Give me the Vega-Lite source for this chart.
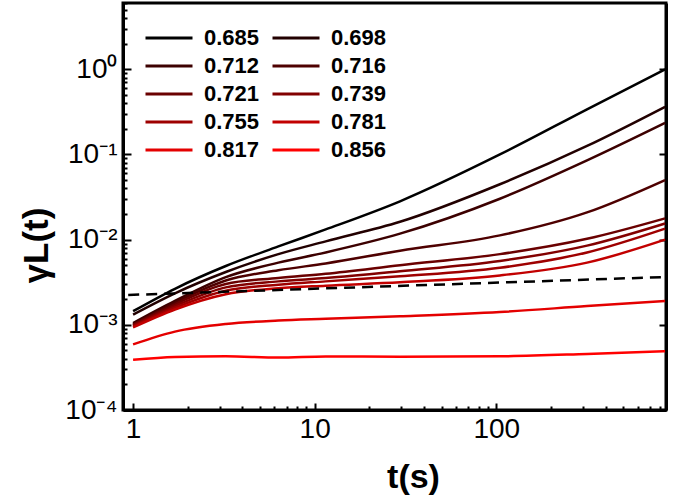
{
  "$schema": "https://vega.github.io/schema/vega-lite/v6.json",
  "width": 543,
  "height": 407,
  "autosize": "none",
  "padding": {"left": 123, "top": 3, "right": 9, "bottom": 92},
  "config": {"view": {"stroke": "black", "strokeWidth": 3}, "font": "Liberation Sans"},
  "datasets": {
    "curves": [
      {"s": "0.685", "t": 1, "g": 0.001445}, {"s": "0.685", "t": 1.7, "g": 0.00265}, {"s": "0.685", "t": 3.24, "g": 0.0049}, {"s": "0.685", "t": 6.31, "g": 0.00832}, {"s": "0.685", "t": 11.5, "g": 0.01318}, {"s": "0.685", "t": 29.5, "g": 0.0282}, {"s": "0.685", "t": 104.7, "g": 0.1}, {"s": "0.685", "t": 316, "g": 0.339}, {"s": "0.685", "t": 850, "g": 1.0},
      {"s": "0.698", "t": 1, "g": 0.001318}, {"s": "0.698", "t": 1.7, "g": 0.002344}, {"s": "0.698", "t": 3.24, "g": 0.004169}, {"s": "0.698", "t": 6.31, "g": 0.00676}, {"s": "0.698", "t": 11.5, "g": 0.00955}, {"s": "0.698", "t": 29.5, "g": 0.0162}, {"s": "0.698", "t": 104.7, "g": 0.0447}, {"s": "0.698", "t": 316, "g": 0.126}, {"s": "0.698", "t": 850, "g": 0.363},
      {"s": "0.712", "t": 1, "g": 0.001047}, {"s": "0.712", "t": 1.7, "g": 0.001905}, {"s": "0.712", "t": 3.24, "g": 0.00363}, {"s": "0.712", "t": 6.31, "g": 0.00537}, {"s": "0.712", "t": 11.5, "g": 0.00708}, {"s": "0.712", "t": 29.5, "g": 0.01175}, {"s": "0.712", "t": 104.7, "g": 0.0302}, {"s": "0.712", "t": 316, "g": 0.0851}, {"s": "0.712", "t": 850, "g": 0.2344},
      {"s": "0.716", "t": 1, "g": 0.001}, {"s": "0.716", "t": 1.7, "g": 0.00182}, {"s": "0.716", "t": 3.24, "g": 0.00331}, {"s": "0.716", "t": 6.31, "g": 0.00437}, {"s": "0.716", "t": 11.5, "g": 0.00525}, {"s": "0.716", "t": 29.5, "g": 0.00741}, {"s": "0.716", "t": 104.7, "g": 0.01122}, {"s": "0.716", "t": 316, "g": 0.02089}, {"s": "0.716", "t": 850, "g": 0.0501},
      {"s": "0.721", "t": 1, "g": 0.001}, {"s": "0.721", "t": 1.7, "g": 0.001738}, {"s": "0.721", "t": 3.24, "g": 0.00302}, {"s": "0.721", "t": 6.31, "g": 0.003548}, {"s": "0.721", "t": 11.5, "g": 0.00398}, {"s": "0.721", "t": 29.5, "g": 0.00501}, {"s": "0.721", "t": 104.7, "g": 0.00676}, {"s": "0.721", "t": 316, "g": 0.01023}, {"s": "0.721", "t": 850, "g": 0.01778},
      {"s": "0.739", "t": 1, "g": 0.000977}, {"s": "0.739", "t": 1.7, "g": 0.00166}, {"s": "0.739", "t": 3.24, "g": 0.002754}, {"s": "0.739", "t": 6.31, "g": 0.003236}, {"s": "0.739", "t": 11.5, "g": 0.003548}, {"s": "0.739", "t": 29.5, "g": 0.004266}, {"s": "0.739", "t": 104.7, "g": 0.00562}, {"s": "0.739", "t": 316, "g": 0.00851}, {"s": "0.739", "t": 850, "g": 0.01549},
      {"s": "0.755", "t": 1, "g": 0.000955}, {"s": "0.755", "t": 1.7, "g": 0.001585}, {"s": "0.755", "t": 3.24, "g": 0.002512}, {"s": "0.755", "t": 6.31, "g": 0.002951}, {"s": "0.755", "t": 11.5, "g": 0.003236}, {"s": "0.755", "t": 29.5, "g": 0.003715}, {"s": "0.755", "t": 104.7, "g": 0.004677}, {"s": "0.755", "t": 316, "g": 0.00708}, {"s": "0.755", "t": 850, "g": 0.01349},
      {"s": "0.781", "t": 1, "g": 0.000933}, {"s": "0.781", "t": 1.7, "g": 0.001514}, {"s": "0.781", "t": 3.24, "g": 0.002291}, {"s": "0.781", "t": 6.31, "g": 0.00269}, {"s": "0.781", "t": 11.5, "g": 0.002884}, {"s": "0.781", "t": 29.5, "g": 0.003162}, {"s": "0.781", "t": 104.7, "g": 0.0038}, {"s": "0.781", "t": 316, "g": 0.00537}, {"s": "0.781", "t": 850, "g": 0.01},
      {"s": "0.817", "t": 1, "g": 0.000589}, {"s": "0.817", "t": 1.7, "g": 0.000832}, {"s": "0.817", "t": 3.24, "g": 0.001023}, {"s": "0.817", "t": 6.31, "g": 0.001122}, {"s": "0.817", "t": 11.5, "g": 0.001175}, {"s": "0.817", "t": 29.5, "g": 0.001259}, {"s": "0.817", "t": 104.7, "g": 0.001413}, {"s": "0.817", "t": 316, "g": 0.00166}, {"s": "0.817", "t": 850, "g": 0.001905},
      {"s": "0.856", "t": 1, "g": 0.000389}, {"s": "0.856", "t": 1.7, "g": 0.00042}, {"s": "0.856", "t": 3.24, "g": 0.000428}, {"s": "0.856", "t": 6.31, "g": 0.000412}, {"s": "0.856", "t": 11.5, "g": 0.000425}, {"s": "0.856", "t": 29.5, "g": 0.000422}, {"s": "0.856", "t": 104.7, "g": 0.000427}, {"s": "0.856", "t": 316, "g": 0.000455}, {"s": "0.856", "t": 850, "g": 0.00049}
    ],
    "dash": [{"t": 0.94, "g": 0.00224}, {"t": 850, "g": 0.00364}]
  },
  "layer": [
    {
      "data": {"name": "curves"},
      "mark": {"type": "line", "strokeWidth": 2.5, "interpolate": "monotone"},
      "encoding": {
        "x": {
          "field": "t", "type": "quantitative",
          "scale": {"type": "log", "domain": [0.88, 860], "nice": false},
          "axis": {
            "values": [1,2,3,4,5,6,7,8,9,10,20,30,40,50,60,70,80,90,100,200,300,400,500,600,700,800],
            "labelExpr": "datum.value==1?'1':datum.value==10?'10':datum.value==100?'100':''",
            "tickSize": {"condition": {"test": "datum.value==1||datum.value==10||datum.value==100", "value": -7}, "value": -4},
            "tickWidth": 2, "tickColor": "black", "domainColor": "black", "domainWidth": 3,
            "labelFontSize": 28, "labelColor": "black", "labelPadding": 12, "labelOverlap": false, "labelFlush": false, "labelBound": false,
            "grid": false,
            "title": "t(s)", "titleFontSize": 34, "titleFontWeight": "bold", "titleColor": "black", "titlePadding": 14, "titleX": 290
          }
        },
        "y": {
          "field": "g", "type": "quantitative",
          "scale": {"type": "log", "domain": [0.0001, 6], "nice": false},
          "axis": {
            "values": [0.0001,0.0002,0.0003,0.0004,0.0005,0.0006,0.0007,0.0008,0.0009,0.001,0.002,0.003,0.004,0.005,0.006,0.007,0.008,0.009,0.01,0.02,0.03,0.04,0.05,0.06,0.07,0.08,0.09,0.1,0.2,0.3,0.4,0.5,0.6,0.7,0.8,0.9,1,2,3,4,5,6],
            "labelExpr": "datum.value==1?'10⁰':datum.value==0.1?'10⁻¹':datum.value==0.01?'10⁻²':datum.value==0.001?'10⁻³':datum.value==0.0001?'10⁻⁴':''",
            "tickSize": {"condition": {"test": "datum.value==1||datum.value==0.1||datum.value==0.01||datum.value==0.001||datum.value==0.0001", "value": -8}, "value": -4},
            "tickWidth": 2, "tickColor": "black", "domainColor": "black", "domainWidth": 3,
            "labelFontSize": 28, "labelColor": "black", "labelPadding": 14, "labelOverlap": false, "labelFlush": false, "labelBound": false,
            "grid": false,
            "title": "γL(t)", "titleFontSize": 35, "titleFontWeight": "bold", "titleColor": "black", "titlePadding": 10, "titleY": 242
          }
        },
        "color": {
          "field": "s", "type": "nominal",
          "scale": {
            "domain": ["0.685","0.712","0.721","0.755","0.817","0.698","0.716","0.739","0.781","0.856"],
            "range": ["#000000","#3c0000","#6a0000","#9e0000","#e40000","#220000","#4e0000","#820000","#c20000","#ff0000"]
          },
          "legend": {
            "orient": "none", "legendX": 21, "legendY": 21, "columns": 2, "title": null,
            "symbolType": "stroke", "symbolSize": 2209, "symbolStrokeWidth": 3,
            "labelFontSize": 22, "labelFontWeight": "bold", "labelFont": "Liberation Sans", "labelColor": "black",
            "labelOffset": 10, "rowPadding": 0, "clipHeight": 28, "columnPadding": 11, "padding": 0, "labelLimit": 200
          }
        }
      }
    },
    {
      "data": {"name": "dash"},
      "mark": {"type": "line", "color": "black", "strokeWidth": 2.5, "strokeDash": [11, 7]},
      "encoding": {
        "x": {"field": "t", "type": "quantitative"},
        "y": {
          "field": "g", "type": "quantitative",
          "axis": {"orient": "right", "values": [0.0001, 0.001, 0.01, 0.1, 1], "labels": false, "tickSize": -7, "tickWidth": 2, "tickColor": "black", "domainColor": "black", "domainWidth": 3, "title": null, "grid": false}
        }
      }
    }
  ],
  "resolve": {"axis": {"y": "independent"}}
}
